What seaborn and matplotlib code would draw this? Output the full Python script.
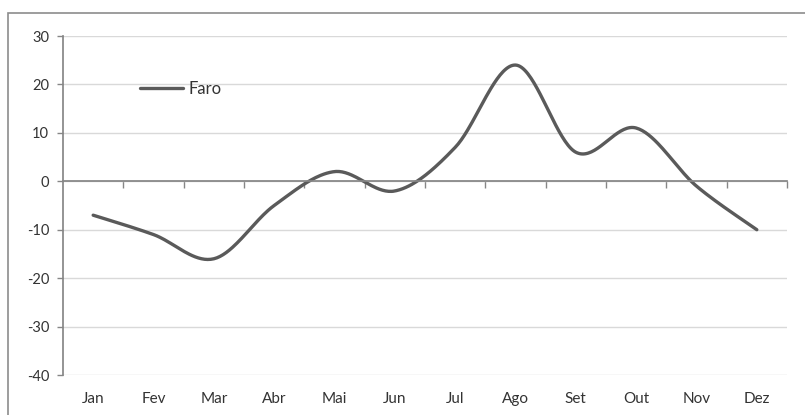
import numpy as np
import pandas as pd
import seaborn as sns
import matplotlib.pyplot as plt
from matplotlib.patches import Rectangle

months = ['Jan', 'Fev', 'Mar', 'Abr', 'Mai', 'Jun', 'Jul', 'Ago', 'Set', 'Out', 'Nov', 'Dez']
faro = [-7, -11, -16, -5, 2, -2, 7, 24, 6, 11, -1, -10]

sns.set_theme(style='white')
plt.rcParams['font.family'] = ['Lato', 'DejaVu Sans']
plt.rcParams['axes.unicode_minus'] = False


# smooth curve like Excel's "smoothed line" (Catmull-Rom bezier)
def smooth(y, n=40):
    y = np.asarray(y, dtype=float)
    x = np.arange(len(y), dtype=float)
    xs, ys = [], []
    for i in range(len(y) - 1):
        i0, i3 = max(i - 1, 0), min(i + 2, len(y) - 1)
        p0 = np.array([x[i], y[i]])
        p3 = np.array([x[i + 1], y[i + 1]])
        c1 = p0 + (p3 - np.array([x[i0], y[i0]])) / 6
        c2 = p3 - (np.array([x[i3], y[i3]]) - p0) / 6
        t = np.linspace(0, 1, n)[:, None]
        pts = (1 - t) ** 3 * p0 + 3 * (1 - t) ** 2 * t * c1 + 3 * (1 - t) * t ** 2 * c2 + t ** 3 * p3
        xs.extend(pts[:, 0])
        ys.extend(pts[:, 1])
    return pd.DataFrame({'x': xs, 'y': ys})


df = smooth(faro)

fig = plt.figure(figsize=(8.05, 4.15), dpi=100)
fig.patches.append(Rectangle((8 / 805, -0.1), 1.0, 1 - 13 / 415 + 0.1, transform=fig.transFigure,
                             fill=False, edgecolor='#8c8c8c', linewidth=1.2))
ax = fig.add_axes([63 / 805, 1 - 375 / 415, 724 / 805, 339 / 415])

sns.lineplot(data=df, x='x', y='y', ax=ax, color='#5a5a5a', linewidth=2.4, label='Faro', sort=False)

ax.set_xlim(-0.5, 11.5)
ax.set_ylim(-40, 30)
ax.set_yticks(range(-40, 31, 10))
ax.yaxis.grid(True, color='#d9d9d9', linewidth=1)
ax.set_axisbelow(True)
ax.set_xlabel('')
ax.set_ylabel('')

for s in ['top', 'right']:
    ax.spines[s].set_visible(False)
ax.spines['left'].set_color('#868686')
ax.spines['bottom'].set_position(('data', 0))
ax.spines['bottom'].set_color('#868686')
ax.set_xticks(np.arange(0.5, 11.6, 1))
ax.set_xticklabels([])
ax.tick_params(axis='x', direction='out', length=5, color='#868686', width=1, bottom=True)
ax.tick_params(axis='y', direction='out', length=4, color='#868686', width=1, left=True,
               labelsize=10.5, labelcolor='#333333', pad=6)

sec = ax.secondary_xaxis(0.0)
sec.set_xticks(range(len(months)))
sec.set_xticklabels(months)
sec.spines['bottom'].set_visible(False)
sec.tick_params(length=0, labelsize=11, labelcolor='#333333', pad=12)

ax.legend(loc='center left', bbox_to_anchor=(77 / 724, 0.845), frameon=False, borderpad=0,
          borderaxespad=0, handlelength=2.6, handletextpad=0.3, fontsize=12)
for t in ax.get_legend().get_texts():
    t.set_color('#333333')

fig.savefig('out.png', dpi=100)
